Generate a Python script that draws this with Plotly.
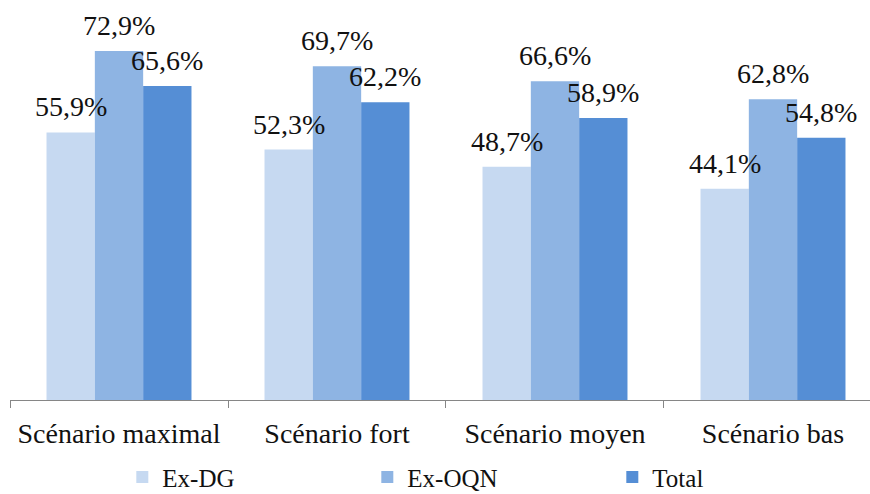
import plotly.graph_objects as go

categories = ["Scénario maximal", "Scénario fort", "Scénario moyen", "Scénario bas"]
series_names = ["Ex-DG", "Ex-OQN", "Total"]
ex_dg = [55.9, 52.3, 48.7, 44.1]
ex_oqn = [72.9, 69.7, 66.6, 62.8]
total = [65.6, 62.2, 58.9, 54.8]
colors = ["#C6D9F1", "#8EB4E3", "#558ED5"]

FONT = "Liberation Serif"
BAR_PX = 48.3

fig = go.Figure()
for k, (name, vals, col) in enumerate(zip(series_names, [ex_dg, ex_oqn, total], colors)):
    fig.add_trace(go.Bar(
        x=categories, y=vals, name=name,
        marker=dict(color=col, line=dict(width=0)),
    ))
    for cat, v in zip(categories, vals):
        fig.add_annotation(
            x=cat, y=v, xref="x", yref="y",
            text=f"{v:.1f}%".replace(".", ","),
            showarrow=False, xanchor="center", yanchor="bottom",
            xshift=(k - 1) * BAR_PX, yshift=8,
            font=dict(family=FONT, size=28, color="#111111"),
        )

fig.update_layout(
    width=870, height=494,
    margin=dict(l=10, r=0, t=17, b=94, autoexpand=False),
    paper_bgcolor="white", plot_bgcolor="white",
    barmode="group", bargap=0.335, bargroupgap=0,
    showlegend=True,
    legend=dict(orientation="h", xref="container", yref="container",
                x=0.563, xanchor="center", y=0.034, yanchor="middle",
                font=dict(family=FONT, size=25, color="#111111"),
                entrywidth=200, itemwidth=30),
    xaxis=dict(range=[-0.5, 3.445], showline=True, linecolor="#868686", linewidth=1,
               ticks="outside", tickson="boundaries", ticklen=7, tickcolor="#868686",
               tickfont=dict(family=FONT, size=28, color="#111111"),
               ticklabelstandoff=8,
               showgrid=False, fixedrange=True, automargin=False),
    yaxis=dict(range=[0, 80], visible=False, showgrid=False, automargin=False),
)

fig.write_html("out.html", config={"displayModeBar": False, "staticPlot": True},
               post_script="document.body.style.margin='0';document.body.style.overflow='hidden';")
